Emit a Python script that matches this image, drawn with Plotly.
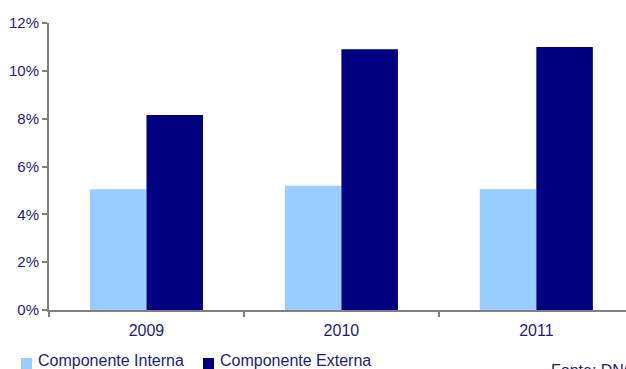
import plotly.graph_objects as go

# Inflation components by year (share, %)
years = ["2009", "2010", "2011"]
componente_interna = [5.05, 5.2, 5.05]
componente_externa = [8.15, 10.9, 11.0]
series_names = ["Componente Interna", "Componente Externa"]
series_colors = ["#99CCFF", "#000080"]
y_ticks = [0, 2, 4, 6, 8, 10, 12]
y_tick_labels = ["0%", "2%", "4%", "6%", "8%", "10%", "12%"]
source_text = "Fonte: DNC"

W, H = 626, 369
M_L, M_R, M_T, M_B = 49, 0, 23, 59
TEXT = "#1C1C80"
FONT = "Liberation Sans, Arial, sans-serif"


def px_x(px):
    return (px - M_L) / (W - M_L - M_R)


def px_y(py):
    return (H - M_B - py) / (H - M_T - M_B)


fig = go.Figure()
for name, vals, color in zip(series_names, [componente_interna, componente_externa], series_colors):
    fig.add_trace(go.Bar(x=years, y=vals, name=name, marker=dict(color=color, line=dict(width=0)),
                         showlegend=False))

# Legend drawn as swatches + labels along the bottom
legend_pos = [(21, 36), (203, 218)]
for (sx, tx), name, color in zip(legend_pos, series_names, series_colors):
    fig.add_shape(type="rect", xref="paper", yref="paper",
                  x0=px_x(sx), x1=px_x(sx + 11), y0=px_y(358), y1=px_y(369),
                  fillcolor=color, line=dict(width=0))
    fig.add_annotation(xref="paper", yref="paper", x=px_x(tx), y=px_y(360),
                       xanchor="left", yanchor="middle", showarrow=False,
                       text=name, font=dict(family=FONT, size=16, color=TEXT))

fig.add_annotation(xref="paper", yref="paper", x=px_x(549), y=px_y(360),
                   xanchor="left", yanchor="top", showarrow=False,
                   text=source_text, font=dict(family=FONT, size=16, color=TEXT))

fig.update_layout(
    width=W, height=H,
    margin=dict(l=M_L, r=M_R, t=M_T, b=M_B),
    paper_bgcolor="white", plot_bgcolor="white",
    barmode="group", bargap=0.42, bargroupgap=0,
    font=dict(family=FONT, color=TEXT),
    xaxis=dict(
        range=[-0.5, 2.46], showgrid=False, zeroline=False,
        showline=True, linecolor="#808080", linewidth=2,
        ticks="outside", tickson="boundaries", ticklen=5, tickwidth=2, tickcolor="#808080",
        ticklabelstandoff=5,
        tickfont=dict(family=FONT, size=16, color=TEXT),
    ),
    yaxis=dict(
        range=[0, 12], tickvals=y_ticks, ticktext=y_tick_labels,
        showgrid=False, zeroline=False,
        showline=True, linecolor="#808080", linewidth=2,
        ticks="outside", ticklen=5, tickwidth=2, tickcolor="#808080",
        tickfont=dict(family=FONT, size=15, color=TEXT),
    ),
)

fig.write_html("out.html")
